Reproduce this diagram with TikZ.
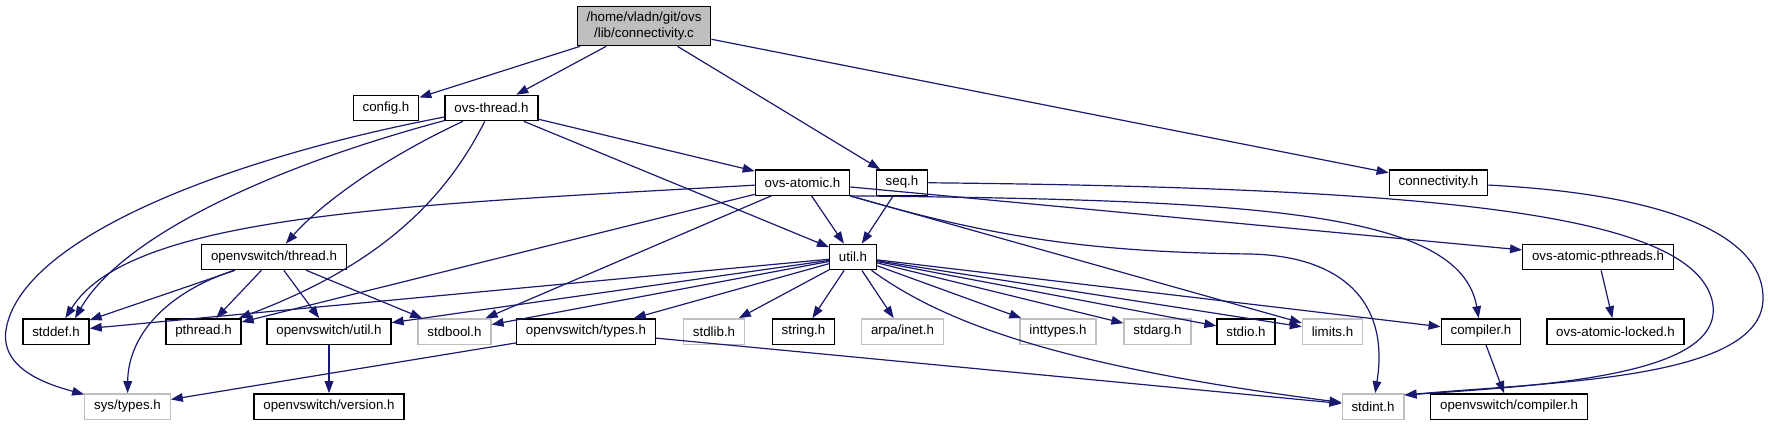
\documentclass[tikz,border=0pt]{standalone}
\usepackage{fontspec}
\setmainfont{Liberation Sans}
\usetikzlibrary{arrows.meta}

\definecolor{edgeblue}{HTML}{191970}
\definecolor{sysgray}{HTML}{BFBFBF}

\begin{document}
\begin{tikzpicture}[
    x=0.75pt, y=-0.75pt,
    file/.style = { draw=black, fill=white, line width=1pt, font=\fontsize{10}{12}\selectfont,
                    inner xsep=7pt, inner ysep=0pt, minimum height=19pt },
    sysfile/.style = { file, draw=sysgray },
    mainfile/.style = { file, fill=sysgray, align=center, minimum height=29.5pt },
    dep/.style = { draw=edgeblue, line width=0.9pt, -{Triangle[length=9pt, width=6.5pt]} },
    ]

    \useasboundingbox (0,0) rectangle (1768,425);

    % included file
    \node[mainfile] (root) at (644,26) {/home/vladn/git/ovs\\/lib/connectivity.c};

    % headers, row by row
    \node[file] (config)    at (386,108)    {config.h};
    \node[file] (ovsthread) at (491.5,108)  {ovs-thread.h};

    \node[file] (ovsatomic) at (802.5,182.5)  {ovs-atomic.h};
    \node[file] (seq)       at (902,182.5)    {seq.h};
    \node[file] (connh)     at (1438.5,182.5) {connectivity.h};

    \node[file] (threadapi) at (274,257)  {openvswitch/thread.h};
    \node[file] (util)      at (853,257)  {util.h};
    \node[file] (atomicpth) at (1598,257) {ovs-atomic-pthreads.h};

    \node[file]    (stddef)     at (56,331.5)     {stddef.h};
    \node[file]    (pthread)    at (203.5,331.5)  {pthread.h};
    \node[file]    (ovsutil)    at (329,331.5)    {openvswitch/util.h};
    \node[sysfile] (stdbool)    at (454.5,331.5)  {stdbool.h};
    \node[file]    (ovstypes)   at (586,331.5)    {openvswitch/types.h};
    \node[sysfile] (stdlib)     at (714,331.5)    {stdlib.h};
    \node[file]    (string)     at (803.5,331.5)  {string.h};
    \node[sysfile] (arpainet)   at (902.5,331.5)  {arpa/inet.h};
    \node[sysfile] (inttypes)   at (1058,331.5)   {inttypes.h};
    \node[sysfile] (stdarg)     at (1157.5,331.5) {stdarg.h};
    \node[file]    (stdio)      at (1246,331.5)   {stdio.h};
    \node[sysfile] (limits)     at (1332.5,331.5) {limits.h};
    \node[file]    (compiler)   at (1481,331.5)   {compiler.h};
    \node[file]    (atomiclock) at (1615.5,331.5) {ovs-atomic-locked.h};

    \node[sysfile] (systypes)    at (127.5,406.5) {sys/types.h};
    \node[file]    (version)     at (329,406.5)   {openvswitch/version.h};
    \node[sysfile] (stdint)      at (1373,406.5)  {stdint.h};
    \node[file]    (ovscompiler) at (1509,406.5)  {openvswitch/compiler.h};

    % connectivity.c
    \draw[dep] (root) -- (config);
    \draw[dep] (root) -- (ovsthread);
    \draw[dep] (root) -- (seq);
    \draw[dep] (root) -- (connh);

    % ovs-thread.h
    \draw[dep] (ovsthread) -- (ovsatomic);
    \draw[dep] (ovsthread) -- (util);
    \draw[dep] (ovsthread) .. controls (380,160) and (320,205) .. (threadapi);
    \draw[dep] (ovsthread) .. controls (445,200) and (380,265) .. (pthread);
    \draw[dep] (ovsthread) .. controls (260,170) and (120,240) .. (stddef.35);
    \draw[dep] (ovsthread) .. controls (220,160) and (20,240) .. (6,330)
                           .. controls (0,370) and (50,385) .. (systypes);

    % ovs-atomic.h
    \draw[dep] (ovsatomic) .. controls (400,205) and (130,215) .. (stddef.55);
    \draw[dep] (ovsatomic) -- (pthread);
    \draw[dep] (ovsatomic) -- (stdbool);
    \draw[dep] (ovsatomic) -- (util);
    \draw[dep] (ovsatomic) -- (limits);
    \draw[dep] (ovsatomic) -- (atomicpth);
    \draw[dep] (ovsatomic.south east) .. controls (1250,200) and (1460,210) .. (compiler);
    \draw[dep] (ovsatomic.south east) .. controls (1000,240) and (1100,252) .. (1250,254)
                                      .. controls (1340,256) and (1390,300) .. (stdint);

    % seq.h and connectivity.h
    \draw[dep] (seq) -- (util);
    \draw[dep] (seq) .. controls (1450,188) and (1690,215) .. (1712,300)
                     .. controls (1730,375) and (1550,385) .. (stdint.20);
    \draw[dep] (connh) .. controls (1680,195) and (1765,240) .. (1763,300)
                       .. controls (1760,380) and (1550,382) .. (stdint.20);

    % openvswitch/thread.h
    \draw[dep] (threadapi) -- (stddef);
    \draw[dep] (threadapi) .. controls (160,295) and (128,340) .. (systypes);
    \draw[dep] (threadapi) -- (pthread);
    \draw[dep] (threadapi) -- (ovsutil);
    \draw[dep] (threadapi) -- (stdbool);

    % util.h
    \draw[dep] (util) -- (stddef);
    \draw[dep] (util) -- (ovsutil);
    \draw[dep] (util) -- (stdbool);
    \draw[dep] (util) -- (ovstypes);
    \draw[dep] (util) -- (stdlib);
    \draw[dep] (util) -- (string);
    \draw[dep] (util) -- (arpainet);
    \draw[dep] (util) -- (inttypes);
    \draw[dep] (util) -- (stdarg);
    \draw[dep] (util) -- (stdio);
    \draw[dep] (util) -- (limits);
    \draw[dep] (util) -- (compiler);
    \draw[dep] (util) .. controls (940,320) and (1050,365) .. (stdint);

    % the rest
    \draw[dep] (ovstypes) -- (systypes);
    \draw[dep] (ovstypes) -- (stdint);
    \draw[dep] (ovsutil) -- (version);
    \draw[dep] (compiler) -- (ovscompiler);
    \draw[dep] (atomicpth) -- (atomiclock);

  \end{tikzpicture}
\end{document}
